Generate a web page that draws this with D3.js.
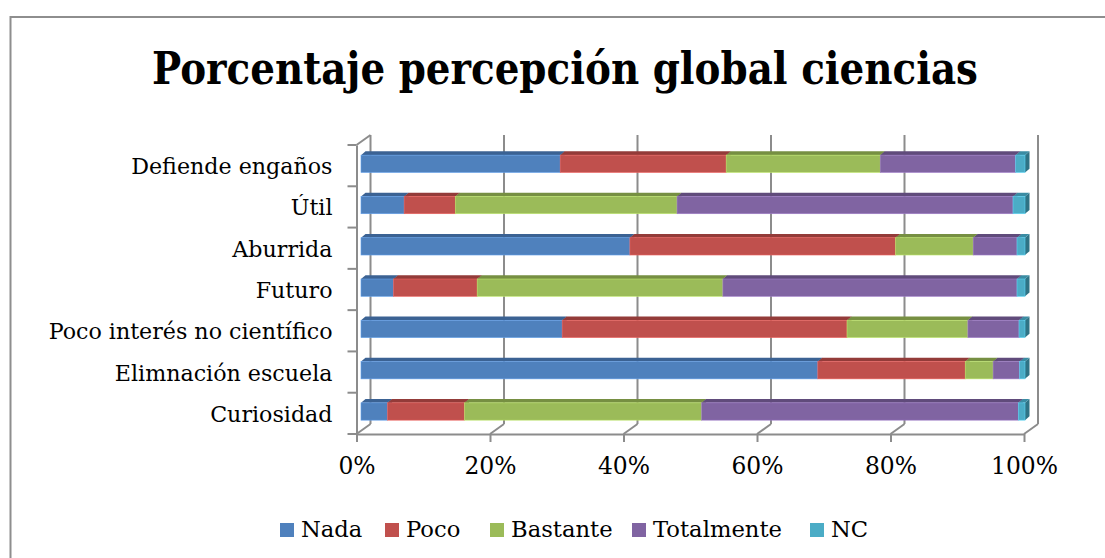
<!DOCTYPE html>
<html>
<head>
<meta charset="utf-8">
<script src="https://cdn.jsdelivr.net/npm/d3@7"></script>
<style>
  html, body { margin: 0; padding: 0; background: #fff; }
  svg { display: block; }
</style>
</head>
<body>
<svg id="chart" width="1105" height="558"></svg>
<script>
// ---- data ----
const categories = ["Defiende engaños", "Útil", "Aburrida", "Futuro",
  "Poco interés no científico", "Elimnación escuela", "Curiosidad"];
const seriesNames = ["Nada", "Poco", "Bastante", "Totalmente", "NC"];
const nada       = [30.0,  6.5, 40.5,  4.9, 30.3, 68.8,  4.0];
const poco       = [25.0,  7.7, 40.0, 12.6, 42.9, 22.2, 11.6];
const bastante   = [23.2, 33.4, 11.7, 37.0, 18.2,  4.2, 35.7];
const totalmente = [20.4, 50.6,  6.6, 44.3,  7.7,  4.0, 47.7];
const nc         = [ 1.4,  1.8,  1.2,  1.2,  0.9,  0.8,  1.0];
const tickValues = [0, 20, 40, 60, 80, 100];
const titleText = "Porcentaje percepción global ciencias";

// ---- styles ----
const FONT = "'DejaVu Serif', 'Liberation Serif', serif";
const frontCol = ["#4F81BD", "#C0504D", "#9BBB59", "#8064A2", "#4BACC6"];
const topCol   = ["#3B6293", "#933B39", "#768F42", "#604B7B", "#3A8CA3"];
const sideCol  = ["#345782", "#823432", "#687E3A", "#54426C", "#2F7385"];
const gridCol = "#8C8C8C";

const svg = d3.select("#chart");
const values = [nada, poco, bastante, totalmente, nc];

function fitSize(text, weight, target, base) {
  const t = svg.append("text").attr("font-family", FONT).attr("font-weight", weight)
    .attr("font-size", base).text(text);
  const w = t.node().getComputedTextLength();
  t.remove();
  return base * target / w;
}
const labelSize = fitSize("Poco interés no científico", "normal", 284, 20);
const tickSize = fitSize("100%", "normal", 67, 20);
const legendSize = fitSize("Totalmente", "normal", 129, 20);

// frame
svg.append("rect").attr("x", 10.5).attr("y", 17).attr("width", 1120).attr("height", 560)
  .attr("fill", "none").attr("stroke", "#8E8E8E").attr("stroke-width", 2);

// title (condensed to match the original's width)
svg.append("text").attr("x", 152).attr("y", 84)
  .attr("font-family", FONT).attr("font-size", 44).attr("font-weight", "bold")
  .attr("textLength", 826).attr("lengthAdjust", "spacingAndGlyphs").text(titleText);

// geometry
const plotTop = 145, plotBottom = 434;
const axisX0 = 356.5, axisX1 = 1024;
const depthX = 14, depthY = -10;

const xAxis = d3.scaleLinear().domain([0, 100]).range([axisX0, axisX1]);
const xBar = d3.scaleLinear().domain([0, 100]).range([361, 1025]);
const y = d3.scaleBand().domain(categories).range([plotTop, plotBottom]);

const g = svg.append("g");

tickValues.forEach(t => {
  const fx = xAxis(t);
  g.append("line").attr("x1", fx + depthX).attr("y1", plotTop + depthY)
    .attr("x2", fx + depthX).attr("y2", plotBottom + depthY)
    .attr("stroke", gridCol).attr("stroke-width", 2);
  g.append("line").attr("x1", fx).attr("y1", plotBottom)
    .attr("x2", fx + depthX).attr("y2", plotBottom + depthY)
    .attr("stroke", gridCol).attr("stroke-width", 2);
});
g.append("line").attr("x1", axisX0).attr("y1", plotTop)
  .attr("x2", axisX0 + depthX).attr("y2", plotTop + depthY)
  .attr("stroke", gridCol).attr("stroke-width", 2);

// bars
const bandH = y.bandwidth();
const barH = 17.3, barDX = 4.5, barDY = -3.8;
categories.forEach((c, i) => {
  const yTop = y(c) + bandH / 2 - 10.5;
  let cum = 0;
  values.forEach((arr, s) => {
    const v0 = cum, v1 = cum + arr[i];
    cum = v1;
    const x0 = xBar(v0), x1 = xBar(v1);
    const bg = g.append("g");
    bg.append("path").attr("d", `M${x1},${yTop} L${x1 + barDX},${yTop + barDY} L${x1 + barDX},${yTop + barH + barDY} L${x1},${yTop + barH} Z`)
      .attr("fill", sideCol[s]);
    bg.append("path").attr("d", `M${x0},${yTop} L${x0 + barDX},${yTop + barDY} L${x1 + barDX},${yTop + barDY} L${x1},${yTop} Z`)
      .attr("fill", topCol[s]);
    bg.append("rect").attr("x", x0).attr("y", yTop).attr("width", x1 - x0).attr("height", barH)
      .attr("fill", frontCol[s]).attr("stroke", d3.color(frontCol[s]).brighter(0.6)).attr("stroke-width", 0.6);
  });
});

// front x axis
const axG = svg.append("g").attr("transform", `translate(0,${plotBottom})`)
  .call(d3.axisBottom(xAxis).tickValues(tickValues).tickFormat(d => d + "%").tickSizeInner(8).tickSizeOuter(0).tickPadding(15));
axG.attr("font-family", FONT).attr("font-size", tickSize);
axG.select(".domain").attr("stroke", gridCol).attr("stroke-width", 2);
axG.selectAll(".tick line").attr("stroke", gridCol).attr("stroke-width", 2);
axG.selectAll(".tick text").attr("fill", "#000");

// left y axis
const ayG = svg.append("g").attr("transform", `translate(${axisX0},0)`)
  .call(d3.axisLeft(y).tickSize(0).tickPadding(24));
ayG.attr("font-family", FONT).attr("font-size", labelSize);
ayG.select(".domain").attr("stroke", gridCol).attr("stroke-width", 2);
ayG.selectAll(".tick text").attr("fill", "#000").attr("dy", "0.38em");
d3.range(categories.length + 1).forEach(k => {
  const yy = plotTop + k * bandH;
  svg.append("line").attr("x1", axisX0 - 9).attr("x2", axisX0).attr("y1", yy).attr("y2", yy)
    .attr("stroke", gridCol).attr("stroke-width", 2);
});

// legend
const legendX = [280, 385, 490, 632, 810];
const lg = svg.append("g").attr("font-family", FONT).attr("font-size", legendSize);
seriesNames.forEach((n, s) => {
  lg.append("rect").attr("x", legendX[s]).attr("y", 523).attr("width", 14).attr("height", 14)
    .attr("fill", frontCol[s]);
  lg.append("text").attr("x", legendX[s] + 21).attr("y", 537).text(n);
});
</script>
</body>
</html>
